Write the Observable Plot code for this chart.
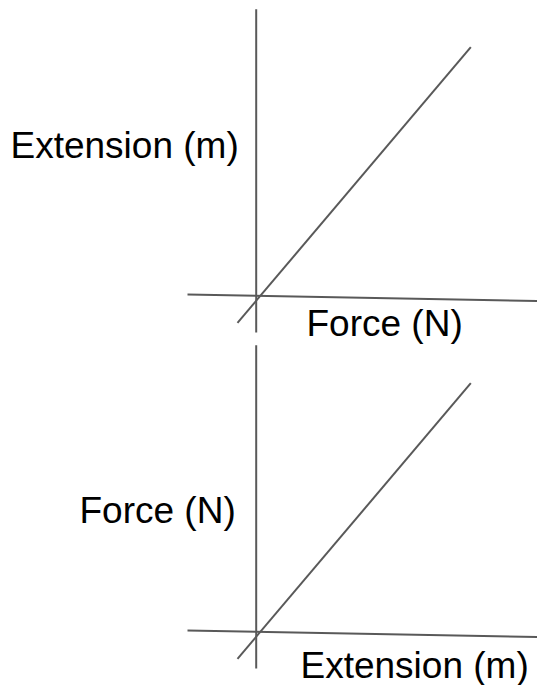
<!DOCTYPE html>
<html>
<head>
<meta charset="utf-8">
<script src="https://cdn.jsdelivr.net/npm/d3@7"></script>
<script src="https://cdn.jsdelivr.net/npm/@observablehq/plot@0.6"></script>
<style>
  html, body { margin: 0; padding: 0; background: #fff; }
  #chart svg { display: block; }
</style>
</head>
<body>
<div id="chart"></div>
<script>
// Two sketch panels: extension vs force, and force vs extension
const panels = ["top", "bottom"];

// Line segments (same sketch in each panel), origin at the axes' crossing
const segmentNames = ["verticalAxis", "horizontalAxis", "proportionalLine"];
const segX1 = [0, -68.7, -18.7];
const segY1 = [287.8, 2.5, -25.8];
const segX2 = [0, 281.3, 214.6];
const segY2 = [-35.5, -4, 249.8];

// Axis labels per panel
const labelPanels = ["top", "top", "bottom", "bottom"];
const labelTexts = ["Extension (m)", "Force (N)", "Force (N)", "Extension (m)"];
const labelX = [-245.7, 50.3, -176.7, 44.3];
const labelY = [138.8, -38.5, 110.2, -45.2];

const segments = panels.flatMap(p => segmentNames.map((name, i) => ({
  panel: p, name, x1: segX1[i], y1: segY1[i], x2: segX2[i], y2: segY2[i]
})));
const labels = labelTexts.map((t, i) => ({
  panel: labelPanels[i], text: t, x: labelX[i], y: labelY[i]
}));

const chart = Plot.plot({
  width: 537,
  height: 685,
  marginTop: 0,
  marginBottom: 13,
  marginLeft: 0,
  marginRight: 0,
  x: {domain: [-255.7, 281.3], axis: null},
  y: {domain: [-39.5, 296.5], axis: null},
  fy: {domain: panels, padding: 0, axis: null},
  style: {background: "#fff"},
  marks: [
    Plot.link(segments, {
      x1: "x1", y1: "y1", x2: "x2", y2: "y2", fy: "panel",
      stroke: "#595959", strokeWidth: 2, strokeLinecap: "butt"
    }),
    Plot.text(labels, {
      x: "x", y: "y", fy: "panel", text: "text",
      textAnchor: "start", lineAnchor: "bottom",
      fontSize: 37, fill: "#000",
      fontFamily: "Liberation Sans, Arial, sans-serif"
    })
  ]
});
document.getElementById("chart").appendChild(chart);
</script>
</body>
</html>
